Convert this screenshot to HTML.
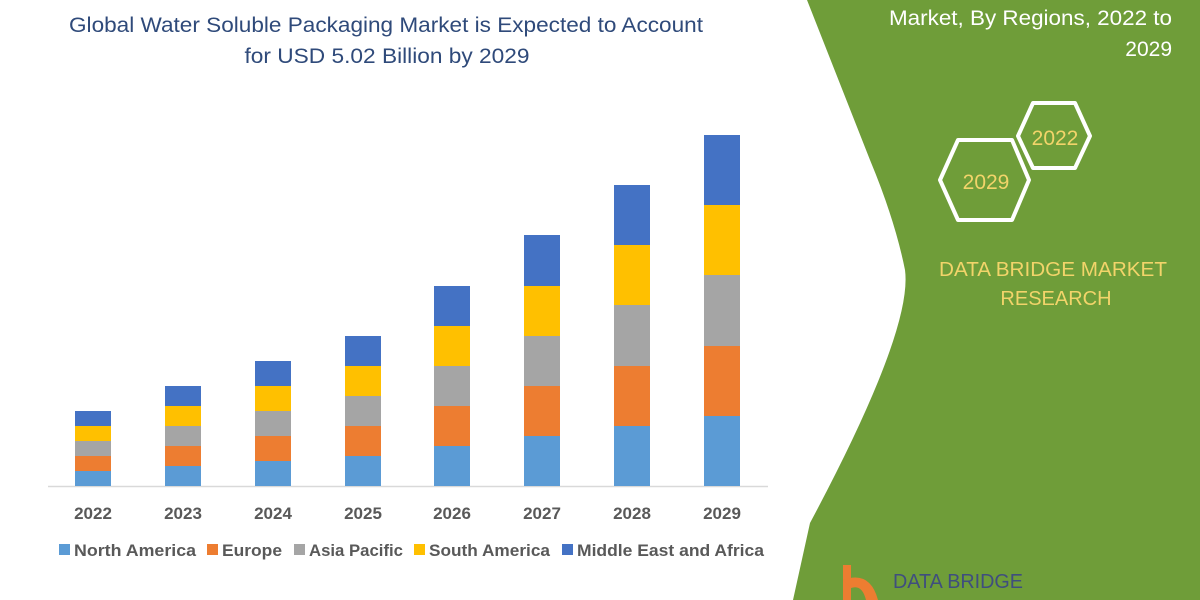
<!DOCTYPE html>
<html><head><meta charset="utf-8"><style>
html,body{margin:0;padding:0;width:1200px;height:600px;overflow:hidden;background:#fff}
text{font-family:"Liberation Sans",sans-serif}
</style></head><body>
<svg width="1200" height="600" viewBox="0 0 1200 600" xmlns="http://www.w3.org/2000/svg">
<rect width="1200" height="600" fill="#fff"/>
<path d="M807,0 L1200,0 L1200,600 L793,600 L810,523 Q913,330 905,270 Q895,220 870,160 Z" fill="#6F9D39"/>
<text x="386" y="32" font-size="21" fill="#2F4A7A" text-anchor="middle" textLength="634" lengthAdjust="spacingAndGlyphs">Global Water Soluble Packaging Market is Expected to Account</text>
<text x="387" y="63" font-size="21" fill="#2F4A7A" text-anchor="middle" textLength="285" lengthAdjust="spacingAndGlyphs">for USD 5.02 Billion by 2029</text>
<text x="1172" y="25" font-size="21" fill="#fff" text-anchor="end" textLength="283" lengthAdjust="spacingAndGlyphs">Market, By Regions, 2022 to</text>
<text x="1172" y="56" font-size="21" fill="#fff" text-anchor="end">2029</text>
<polygon points="1033,103 1075,103 1090,136 1075,168 1033,168 1018,136" fill="none" stroke="#fff" stroke-width="4" stroke-linejoin="round"/>
<text x="1055" y="145" font-size="21" fill="#F2D46A" text-anchor="middle">2022</text>
<polygon points="958,140 1012,140 1029,180 1012,220 958,220 940,180" fill="none" stroke="#fff" stroke-width="4" stroke-linejoin="round"/>
<text x="986" y="189" font-size="21" fill="#F2D46A" text-anchor="middle">2029</text>
<text x="1053" y="276" font-size="20" fill="#F2D46A" text-anchor="middle" textLength="228" lengthAdjust="spacingAndGlyphs">DATA BRIDGE MARKET</text>
<text x="1056" y="305" font-size="20" fill="#F2D46A" text-anchor="middle">RESEARCH</text>
<rect x="843" y="565" width="8" height="35" fill="#ED7D31"/>
<path d="M843,580 Q870,570 878,600 L866,600 Q862,584 851,588 Z" fill="#ED7D31"/>
<text x="893" y="588" font-size="20" fill="#3F4E7E" font-family="Liberation Serif" textLength="130" lengthAdjust="spacingAndGlyphs">DATA BRIDGE</text>
<line x1="48" y1="486.5" x2="768" y2="486.5" stroke="#D9D9D9" stroke-width="1.5"/>
<g font-size="17" font-weight="bold" fill="#595959" text-anchor="middle">
<text x="93" y="519">2022</text><text x="183" y="519">2023</text><text x="273" y="519">2024</text><text x="363" y="519">2025</text>
<text x="452" y="519">2026</text><text x="542" y="519">2027</text><text x="632" y="519">2028</text><text x="722" y="519">2029</text>
</g>
<g font-size="17" font-weight="bold" fill="#595959">
<rect x="59" y="544" width="11" height="11" fill="#5B9BD5"/><text x="74" y="556" textLength="122" lengthAdjust="spacingAndGlyphs">North America</text>
<rect x="207" y="544" width="11" height="11" fill="#ED7D31"/><text x="222" y="556" textLength="60" lengthAdjust="spacingAndGlyphs">Europe</text>
<rect x="294" y="544" width="11" height="11" fill="#A5A5A5"/><text x="309" y="556" textLength="94" lengthAdjust="spacingAndGlyphs">Asia Pacific</text>
<rect x="414" y="544" width="11" height="11" fill="#FFC000"/><text x="429" y="556" textLength="121" lengthAdjust="spacingAndGlyphs">South America</text>
<rect x="562" y="544" width="11" height="11" fill="#4472C4"/><text x="577" y="556" textLength="187" lengthAdjust="spacingAndGlyphs">Middle East and Africa</text>
</g>
<g>
<rect x="75" y="471" width="36" height="15" fill="#5B9BD5"/><rect x="75" y="456" width="36" height="15" fill="#ED7D31"/><rect x="75" y="441" width="36" height="15" fill="#A5A5A5"/><rect x="75" y="426" width="36" height="15" fill="#FFC000"/><rect x="75" y="411" width="36" height="15" fill="#4472C4"/>
<rect x="165" y="466" width="36" height="20" fill="#5B9BD5"/><rect x="165" y="446" width="36" height="20" fill="#ED7D31"/><rect x="165" y="426" width="36" height="20" fill="#A5A5A5"/><rect x="165" y="406" width="36" height="20" fill="#FFC000"/><rect x="165" y="386" width="36" height="20" fill="#4472C4"/>
<rect x="255" y="461" width="36" height="25" fill="#5B9BD5"/><rect x="255" y="436" width="36" height="25" fill="#ED7D31"/><rect x="255" y="411" width="36" height="25" fill="#A5A5A5"/><rect x="255" y="386" width="36" height="25" fill="#FFC000"/><rect x="255" y="361" width="36" height="25" fill="#4472C4"/>
<rect x="345" y="456" width="36" height="30" fill="#5B9BD5"/><rect x="345" y="426" width="36" height="30" fill="#ED7D31"/><rect x="345" y="396" width="36" height="30" fill="#A5A5A5"/><rect x="345" y="366" width="36" height="30" fill="#FFC000"/><rect x="345" y="336" width="36" height="30" fill="#4472C4"/>
<rect x="434" y="446" width="36" height="40" fill="#5B9BD5"/><rect x="434" y="406" width="36" height="40" fill="#ED7D31"/><rect x="434" y="366" width="36" height="40" fill="#A5A5A5"/><rect x="434" y="326" width="36" height="40" fill="#FFC000"/><rect x="434" y="286" width="36" height="40" fill="#4472C4"/>
<rect x="524" y="436" width="36" height="50" fill="#5B9BD5"/><rect x="524" y="386" width="36" height="50" fill="#ED7D31"/><rect x="524" y="336" width="36" height="50" fill="#A5A5A5"/><rect x="524" y="286" width="36" height="50" fill="#FFC000"/><rect x="524" y="235" width="36" height="51" fill="#4472C4"/>
<rect x="614" y="426" width="36" height="60" fill="#5B9BD5"/><rect x="614" y="366" width="36" height="60" fill="#ED7D31"/><rect x="614" y="305" width="36" height="61" fill="#A5A5A5"/><rect x="614" y="245" width="36" height="60" fill="#FFC000"/><rect x="614" y="185" width="36" height="60" fill="#4472C4"/>
<rect x="704" y="416" width="36" height="70" fill="#5B9BD5"/><rect x="704" y="346" width="36" height="70" fill="#ED7D31"/><rect x="704" y="275" width="36" height="71" fill="#A5A5A5"/><rect x="704" y="205" width="36" height="70" fill="#FFC000"/><rect x="704" y="135" width="36" height="70" fill="#4472C4"/>
</g>
</svg>
</body></html>
